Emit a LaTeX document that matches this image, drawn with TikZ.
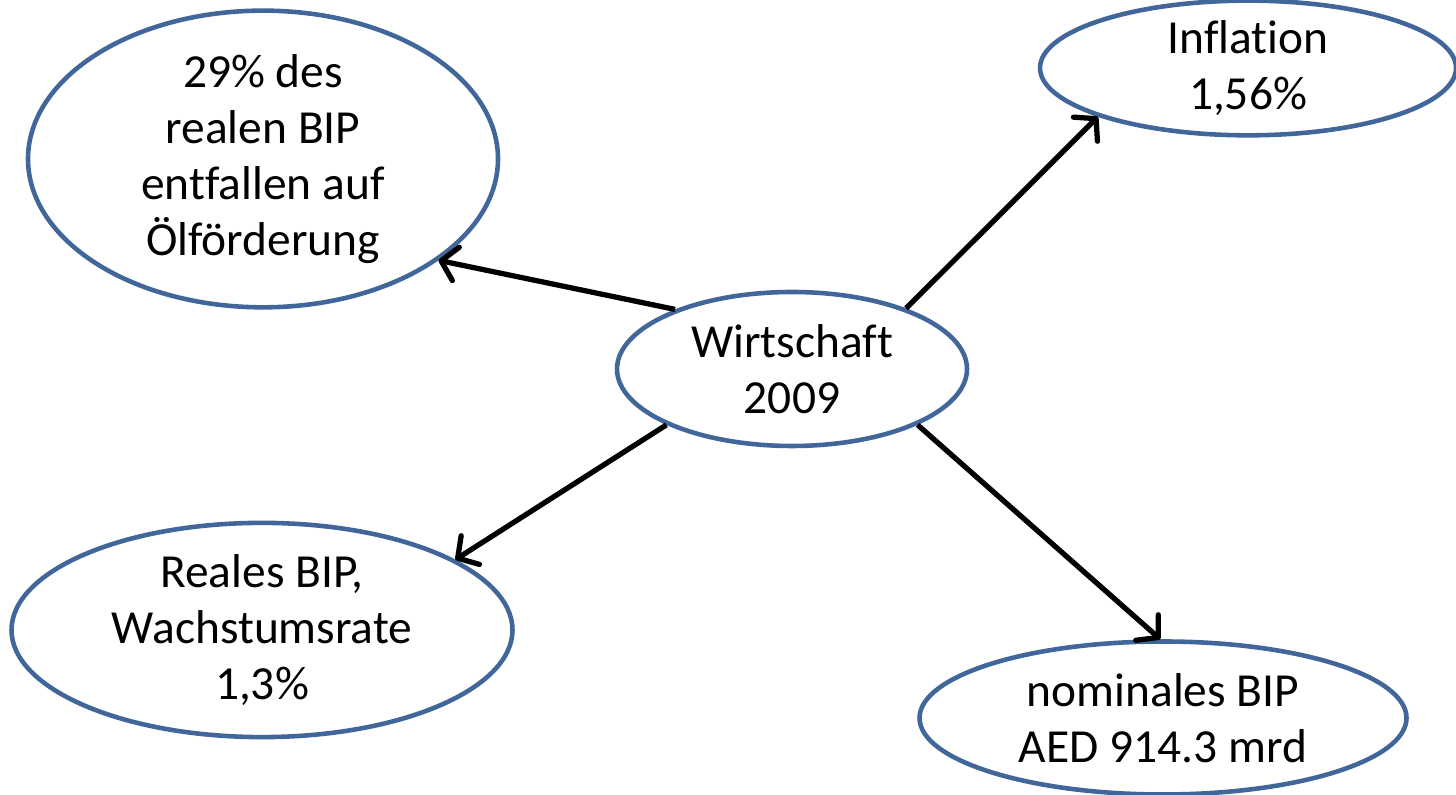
\documentclass[tikz,border=0pt]{standalone}
\usepackage{fontspec}
\setmainfont[Ligatures=NoCommon]{Carlito}
\usetikzlibrary{arrows.meta,shapes.geometric}
\definecolor{ringblue}{HTML}{41679A}

\begin{document}
\begin{tikzpicture}[font=\fontsize{13.5}{16}\selectfont, >={Straight Barb[length=1.5mm,width=3.4mm,round]},
  topic/.style={draw=ringblue, line width=1.3pt, ellipse, fill=white, inner sep=0pt, align=center}]
  \useasboundingbox (0,0) rectangle (14.56,7.95);
  \node[topic, minimum width=3.5cm, minimum height=1.54cm] (wirt) at (7.92,4.26) {Wirtschaft\\2009};
  \node[topic, minimum width=4.7cm, minimum height=2.78cm] (oel) at (2.63,6.36) {29\% des\\realen BIP\\entfallen auf\\Ölförderung};
  \node[topic, minimum width=4.16cm, minimum height=1.28cm] (infl) at (12.48,7.27) {Inflation\\1,56\%};
  \node[topic, minimum width=5.01cm, minimum height=1.76cm] (real) at (2.62,1.65) {Reales BIP,\\Wachstumsrate\\1,3\%};
  \node[topic, minimum width=4.87cm, minimum height=1.53cm] (nom) at (11.63,0.77) {nominales BIP\\AED 914.3 mrd};
  \draw[->, line width=1.5pt] (wirt.153) -- (oel.-30);
  \draw[->, line width=1.5pt] (wirt.28) -- (infl.-162);
  \draw[->, line width=1.5pt] (wirt.204) -- (real.20);
  \draw[->, line width=1.5pt] (wirt.-24) -- (nom.92);
\end{tikzpicture}
\end{document}
